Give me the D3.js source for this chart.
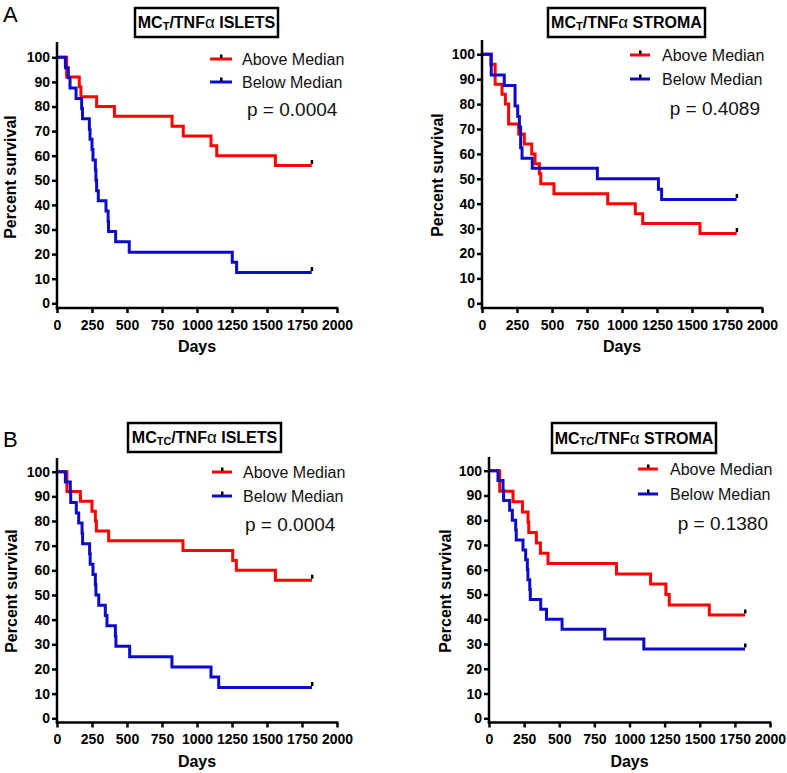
<!DOCTYPE html>
<html>
<head>
<meta charset="utf-8">
<script src="https://cdn.jsdelivr.net/npm/d3@7"></script>
<style>
    html, body { margin: 0; padding: 0; background: #fff; }
    svg { display: block; font-family: "Liberation Sans", Arial, sans-serif; }
</style>
</head>
<body>
<svg id="chart" width="787" height="773"></svg>
<script>
// axis ticks
const dayTicks = [0, 250, 500, 750, 1000, 1250, 1500, 1750, 2000];
const survivalTicks = [0, 10, 20, 30, 40, 50, 60, 70, 80, 90, 100];
const groupNames = ['Above Median', 'Below Median'];

// [days, percent survival] - Kaplan-Meier steps
// MCT/TNFα ISLETS
const isletsTAbove = [[0, 100], [69, 92], [159, 88], [171, 84], [283, 80], [410, 76], [822, 72], [902, 68],
    [1100, 64], [1141, 60], [1560, 56], [1819, 56]];
const isletsTBelow = [[0, 100], [60, 95.8], [81, 91.7], [93, 87.5], [136, 83.3], [176, 79.2], [182, 75],
    [231, 70.8], [236, 66.7], [250, 62.5], [257, 58.3], [274, 54.2], [278, 50], [283, 45.8], [295, 41.7],
    [350, 37.5], [365, 33.3], [368, 29.2], [419, 25], [516, 20.8], [1252, 16.7], [1283, 12.5], [1819, 12.5]];

// MCT/TNFα STROMA
const stromaTAbove = [[0, 100], [64, 96], [94, 88], [143, 84], [167, 80], [190, 72], [262, 68], [302, 64],
    [355, 60], [379, 56], [410, 52], [420, 48], [514, 44], [898, 40], [1095, 36], [1148, 32], [1557, 28], [1819, 28]];
const stromaTBelow = [[0, 100], [66, 91.7], [159, 87.5], [236, 79.2], [255, 75], [267, 70.8], [276, 62.5],
    [286, 58.3], [359, 54.2], [824, 50], [1260, 45.8], [1283, 41.7], [1819, 41.7]];

// MCTC/TNFα ISLETS
const isletsTCAbove = [[0, 100], [71, 92], [167, 88], [250, 84], [274, 80], [281, 76], [369, 72], [900, 68],
    [1255, 64], [1281, 60], [1560, 56], [1821, 56]];
const isletsTCBelow = [[0, 100], [60, 95.8], [95, 91.7], [98, 87.5], [138, 83.3], [155, 79.2], [179, 75],
    [183, 70.8], [233, 66.7], [237, 62.5], [257, 58.3], [274, 54.2], [278, 50], [298, 45.8], [345, 41.7],
    [357, 37.5], [417, 33.3], [421, 29.2], [519, 25], [821, 20.8], [1100, 16.7], [1155, 12.5], [1821, 12.5]];

// MCTC/TNFα STROMA
const stromaTCAbove = [[0, 100], [76, 91.7], [171, 87.5], [238, 83.3], [278, 79.2], [283, 75], [337, 70.8],
    [366, 66.7], [420, 62.5], [907, 58.3], [1150, 54.2], [1259, 50], [1283, 45.8], [1568, 41.7], [1822, 41.7]];
const stromaTCBelow = [[0, 100], [64, 96], [100, 92], [104, 88], [147, 84], [166, 80], [190, 76], [194, 72],
    [242, 68], [261, 64], [273, 60], [277, 56], [290, 52], [294, 48], [368, 44], [409, 40], [520, 36],
    [824, 32], [1102, 28], [1822, 28]];

const cellTypes = ['T', 'T', 'TC', 'TC'];
const regions = ['ISLETS', 'STROMA', 'ISLETS', 'STROMA'];
const pValues = ['0.0004', '0.4089', '0.0004', '0.1380'];
const panelLetters = ['A', '', 'B', ''];

const curves = [
    [isletsTAbove, isletsTBelow],
    [stromaTAbove, stromaTBelow],
    [isletsTCAbove, isletsTCBelow],
    [stromaTCAbove, stromaTCBelow]
];

const colors = ['#ff0000', '#0b0bc8'];

// pixel layout of each panel
const layouts = [
    { x0: 57, x1: 337, y0: 303.3, y100: 57.3, axisY: 308, top: 42, box: [135, 278, 8, 37],
      legX: [210, 232], legY: [59, 82], legText: 242, pX: 247, pY: 116, pAnchor: 'start',
      labX: 16, labY: 177, daysY: 352, letterY: 22 },
    { x0: 482, x1: 762, y0: 303.3, y100: 54.3, axisY: 308, top: 40, box: [548, 705, 8, 37],
      legX: [630, 650], legY: [55, 79], legText: 662, pX: 760, pY: 115, pAnchor: 'end',
      labX: 443, labY: 175, daysY: 352 },
    { x0: 57, x1: 337, y0: 718.3, y100: 471.7, axisY: 722.5, top: 458, box: [128, 281, 423, 452],
      legX: [212, 232], legY: [472, 496], legText: 243, pX: 245, pY: 531, pAnchor: 'start',
      labX: 17, labY: 591, daysY: 767, letterY: 447 },
    { x0: 489, x1: 770, y0: 718.3, y100: 470.7, axisY: 722.5, top: 457, box: [552, 716, 423, 453],
      legX: [638, 658], legY: [469, 494], legText: 670, pX: 768, pY: 530, pAnchor: 'end',
      labX: 451, labY: 591, daysY: 767 }
];

const svg = d3.select('#chart');

function drawPanel(p, i) {
    const g = svg.append('g');
    const x = d3.scaleLinear().domain([0, 2000]).range([p.x0, p.x1]);
    const y = d3.scaleLinear().domain([0, 100]).range([p.y0, p.y100]);

    // survival curves (step)
    const line = d3.line()
        .x(d => x(d[0]))
        .y(d => y(d[1]))
        .curve(d3.curveStepAfter);

    curves[i].forEach((data, k) => {
        g.append('path')
            .datum(data)
            .attr('d', line)
            .attr('fill', 'none')
            .attr('stroke', colors[k])
            .attr('stroke-width', 3);
        // censor mark
        const last = data[data.length - 1];
        g.append('rect')
            .attr('x', x(last[0]) - 1)
            .attr('y', y(last[1]) - 5.5)
            .attr('width', 2.5)
            .attr('height', 4)
            .attr('fill', '#000');
    });

    // y axis
    const yAxis = g.append('g')
        .attr('transform', `translate(${p.x0},0)`)
        .call(d3.axisLeft(y).tickValues(survivalTicks).tickFormat(d3.format('d')).tickSize(5).tickPadding(2));
    yAxis.select('.domain').remove();
    g.append('line')
        .attr('x1', p.x0).attr('x2', p.x0)
        .attr('y1', p.top).attr('y2', p.axisY + 1.25)
        .attr('stroke', '#000').attr('stroke-width', 2.5);

    // x axis
    const xAxis = g.append('g')
        .attr('transform', `translate(0,${p.axisY})`)
        .call(d3.axisBottom(x).tickValues(dayTicks).tickFormat(d3.format('d')).tickSize(5).tickPadding(7));
    xAxis.select('.domain').remove();
    g.append('line')
        .attr('x1', p.x0 - 1.25).attr('x2', p.x1 + 1.25)
        .attr('y1', p.axisY).attr('y2', p.axisY)
        .attr('stroke', '#000').attr('stroke-width', 2.5);

    [yAxis, xAxis].forEach(ax => {
        ax.selectAll('.tick line').attr('stroke', '#000').attr('stroke-width', 2.5);
        ax.selectAll('.tick text')
            .attr('fill', '#000')
            .style('font-size', '14px')
            .style('font-weight', 'bold')
            .style('font-family', '"Liberation Sans", Arial, sans-serif');
    });

    // axis labels
    g.append('text')
        .attr('transform', `translate(${p.labX},${p.labY}) rotate(-90)`)
        .attr('text-anchor', 'middle')
        .style('font-size', '16px')
        .style('font-weight', 'bold')
        .text('Percent survival');

    g.append('text')
        .attr('x', (p.x0 + p.x1) / 2)
        .attr('y', p.daysY)
        .attr('text-anchor', 'middle')
        .style('font-size', '16px')
        .style('font-weight', 'bold')
        .text('Days');

    // title box
    const [bx0, bx1, by0, by1] = p.box;
    g.append('rect')
        .attr('x', bx0).attr('y', by0)
        .attr('width', bx1 - bx0).attr('height', by1 - by0)
        .attr('fill', '#fff')
        .attr('stroke', '#000')
        .attr('stroke-width', 2.5);

    const title = g.append('text')
        .attr('x', (bx0 + bx1) / 2)
        .attr('y', (by0 + by1) / 2 + 5.5)
        .attr('text-anchor', 'middle')
        .style('font-size', '16px')
        .style('font-weight', 'bold');
    title.append('tspan').text('MC');
    title.append('tspan').attr('dy', 1.5).style('font-size', '11px').text(cellTypes[i]);
    title.append('tspan').attr('dy', -1.5).text('/TNF');
    title.append('tspan').style('font-weight', 'normal').style('font-size', '17px').text('α');
    title.append('tspan').text(' ' + regions[i]);

    // panel letter
    if (panelLetters[i]) {
        g.append('text')
            .attr('x', 3)
            .attr('y', p.letterY)
            .style('font-size', '22px')
            .text(panelLetters[i]);
    }

    // legend
    groupNames.forEach((name, k) => {
        const ly = p.legY[k];
        g.append('line')
            .attr('x1', p.legX[0]).attr('x2', p.legX[1])
            .attr('y1', ly).attr('y2', ly)
            .attr('stroke', colors[k])
            .attr('stroke-width', 3);
        g.append('rect')
            .attr('x', (p.legX[0] + p.legX[1]) / 2 - 1)
            .attr('y', ly - 4.5)
            .attr('width', 2.5)
            .attr('height', 3.5)
            .attr('fill', '#000');
        g.append('text')
            .attr('x', p.legText)
            .attr('y', ly)
            .attr('dy', '0.35em')
            .style('font-size', '16px')
            .attr('fill', '#111')
            .text(name);
    });

    g.append('text')
        .attr('x', p.pX)
        .attr('y', p.pY)
        .attr('text-anchor', p.pAnchor)
        .style('font-size', '19px')
        .attr('fill', '#111')
        .text('p = ' + pValues[i]);
}

layouts.forEach((p, i) => drawPanel(p, i));
</script>
</body>
</html>
